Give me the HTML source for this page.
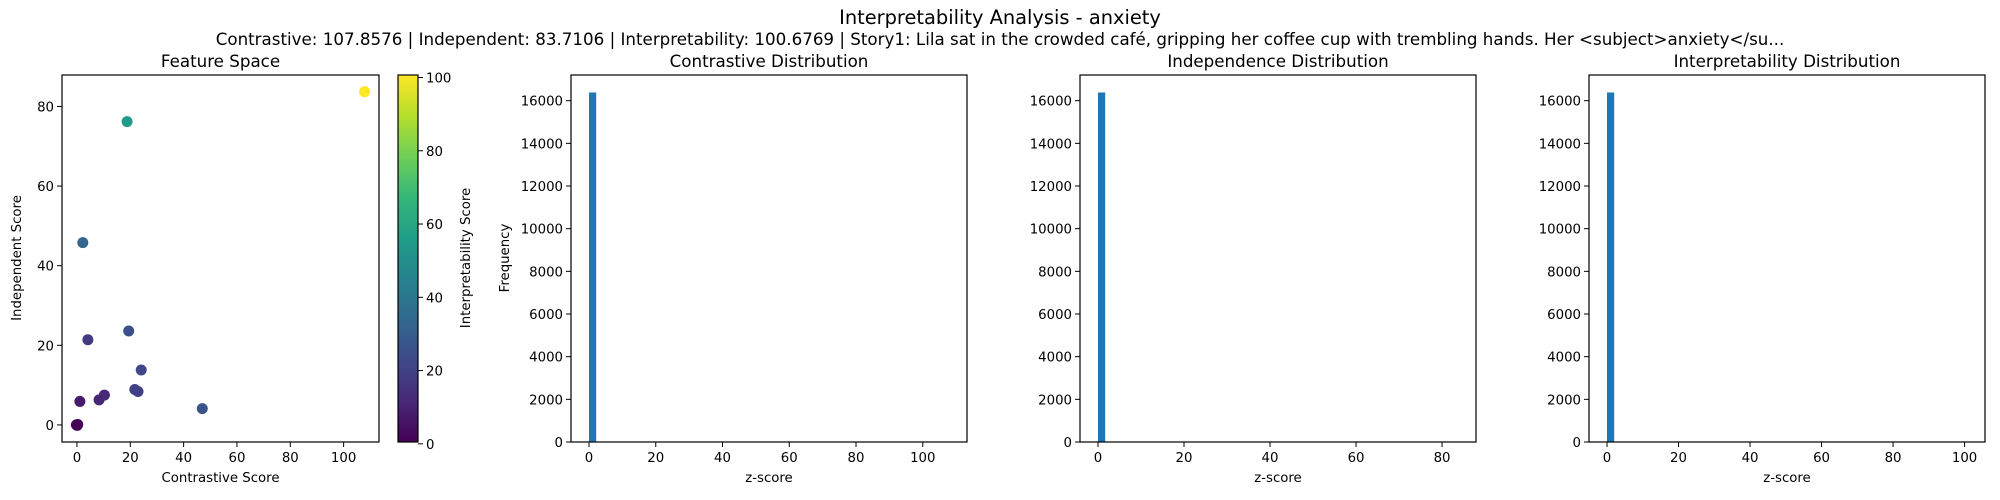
<!DOCTYPE html>
<html><head><meta charset="utf-8"><style>
html,body{margin:0;padding:0;background:#fff;}
svg{display:block;font-family:"DejaVu Sans","Liberation Sans",sans-serif;}
</style></head><body>
<svg id="chart" width="2000" height="500" viewBox="0 0 2000 500">
<defs><linearGradient id="vir" x1="0" y1="1" x2="0" y2="0"></linearGradient></defs>
<text x="1000" y="24" font-size="19.4" text-anchor="middle" fill="#000">Interpretability Analysis - anxiety</text>
<text x="1000" y="45" font-size="16.7" text-anchor="middle" fill="#000">Contrastive: 107.8576 | Independent: 83.7106 | Interpretability: 100.6769 | Story1: Lila sat in the crowded café, gripping her coffee cup with trembling hands. Her &lt;subject&gt;anxiety&lt;/su...</text>
</svg>
<script>
// Scatter data
const contrastiveScores = [107.86, 18.8, 2.2, 19.4, 4.1, 24.1, 21.7, 22.9, 10.3, 8.3, 1.1, 47.0, 0.0, 0.3, -0.2, 0.1];
const independentScores = [83.71, 76.2, 45.8, 23.6, 21.4, 13.8, 8.9, 8.4, 7.5, 6.3, 5.9, 4.1, 0.0, 0.1, 0.0, -0.1];
const interpScores      = [100.68, 55, 33, 25, 18, 22, 20, 20, 12, 11, 8, 27, 2, 1, 0.5, 1.5];
const scatterXTicks = [0, 20, 40, 60, 80, 100];
const scatterYTicks = [0, 20, 40, 60, 80];
const cbarTicks = [0, 20, 40, 60, 80, 100];
// Histogram data (50 bins from 0 to max)
const histTitles = ["Contrastive Distribution", "Independence Distribution", "Interpretability Distribution"];
const histMax = [107.8576, 83.7106, 100.6769];
const histFirstBinCounts = [16384, 16384, 16384];
const histXTicks = [[0,20,40,60,80,100],[0,20,40,60,80],[0,20,40,60,80,100]];
const histYTicks = [0,2000,4000,6000,8000,10000,12000,14000,16000];

const NS = "http://www.w3.org/2000/svg";
const svg = document.getElementById('chart');
const FS = 13.3;
function mk(tag, attrs, parent){ const e=document.createElementNS(NS,tag); for(const k in attrs) e.setAttribute(k,attrs[k]); (parent||svg).appendChild(e); return e; }
function txt(x,y,s,size,anchor,parent){ const t=mk('text',{x:x,y:y,'font-size':size,'text-anchor':anchor||'middle',fill:'#000'},parent); t.textContent=s; return t; }

const VIR = ["#440154","#482878","#3e4989","#31688e","#26828e","#1f9e89","#35b779","#6ece58","#b5de2b","#fde725"];
function hex(h){return [parseInt(h.substr(1,2),16),parseInt(h.substr(3,2),16),parseInt(h.substr(5,2),16)];}
function viridis(t){ t=Math.max(0,Math.min(1,t)); const p=t*(VIR.length-1); const i=Math.min(Math.floor(p),VIR.length-2); const f=p-i; const a=hex(VIR[i]), b=hex(VIR[i+1]); return 'rgb('+a.map((v,k)=>Math.round(v+(b[k]-v)*f)).join(',')+')'; }
const grad = svg.querySelector('#vir');
VIR.forEach((c,i)=>mk('stop',{offset:(i/(VIR.length-1)*100)+'%','stop-color':c},grad));

const TOP=75, BOT=442;
// ---------- scatter ----------
const SL=62, SR=379;
function lim(arr){ const mn=Math.min(...arr), mx=Math.max(...arr), r=mx-mn; return [mn-0.05*r, mx+0.05*r]; }
const xl=lim(contrastiveScores), yl=lim(independentScores);
const sx=v=>SL+(v-xl[0])/(xl[1]-xl[0])*(SR-SL);
const sy=v=>BOT-(v-yl[0])/(yl[1]-yl[0])*(BOT-TOP);
const cMin=Math.min(...interpScores), cMax=Math.max(...interpScores);
const gS=mk('g',{});


contrastiveScores.forEach((x,i)=>{
  const c=mk('circle',{cx:sx(x),cy:sy(independentScores[i]),r:5.5,fill:viridis((interpScores[i]-cMin)/(cMax-cMin))},gS);
  
  
});
const fr=mk('rect',{x:SL,y:TOP,width:SR-SL,height:BOT-TOP,fill:'none',stroke:'#000','stroke-width':1.2});


scatterXTicks.forEach(v=>{ const x=sx(v); mk('line',{x1:x,x2:x,y1:BOT,y2:BOT+5,stroke:'#000'}); const t=txt(x,BOT+20,String(v),FS);
  
   });
scatterYTicks.forEach(v=>{ const y=sy(v); mk('line',{x1:SL-5,x2:SL,y1:y,y2:y,stroke:'#000'}); const t=txt(SL-8,y+5,String(v),FS,'end');
  
   });
let t=txt((SL+SR)/2,67,'Feature Space',16.7);
 
t=txt((SL+SR)/2,482,'Contrastive Score',FS);
 
t=txt(0,0,'Independent Score',FS); t.setAttribute('transform','translate(21,258) rotate(-90)');
 
// colorbar
const CL=398, CR=418;
const cb=mk('rect',{x:CL,y:TOP,width:CR-CL,height:BOT-TOP,fill:'url(#vir)',stroke:'#000','stroke-width':1.2});


const cy=v=>BOT-(v-cMin)/(cMax-cMin)*(BOT-TOP);
cbarTicks.forEach(v=>{ const y=cy(v); mk('line',{x1:CR,x2:CR+5,y1:y,y2:y,stroke:'#000'}); const tt=txt(CR+8,y+5,String(v),FS,'start');
  
   });
t=txt(0,0,'Interpretability Score',FS); t.setAttribute('transform','translate(470,258) rotate(-90)');
 

// ---------- histograms ----------
const HL=[571,1080,1589], HW=396;
histTitles.forEach((title,h)=>{
  const L=HL[h], R=L+HW, mx=histMax[h];
  const x0=-0.05*mx, x1=mx*1.05;
  const hx=v=>L+(v-x0)/(x1-x0)*HW;
  const ymax=histFirstBinCounts[h]*1.05;
  const hy=v=>BOT-v/ymax*(BOT-TOP);
  const bw=mx/50;
  const g=mk('g',{});
  
  
  const counts=[histFirstBinCounts[h]];
  counts.forEach((c,i)=>{
    const b=mk('rect',{x:hx(i*bw),y:hy(c),width:hx((i+1)*bw)-hx(i*bw),height:BOT-hy(c),fill:'#1f77b4'},g);
    
    
  });
  const f=mk('rect',{x:L,y:TOP,width:HW,height:BOT-TOP,fill:'none',stroke:'#000','stroke-width':1.2});
  
  
  histXTicks[h].forEach(v=>{ const x=hx(v); mk('line',{x1:x,x2:x,y1:BOT,y2:BOT+5,stroke:'#000'}); const tt=txt(x,BOT+20,String(v),FS);
    
     });
  histYTicks.forEach(v=>{ const y=hy(v); mk('line',{x1:L-5,x2:L,y1:y,y2:y,stroke:'#000'}); const tt=txt(L-8,y+5,String(v),FS,'end');
    
     });
  let tt=txt(L+HW/2,67,title,16.7);
  
  
  tt=txt(L+HW/2,482,'z-score',FS);
  
  
  if(h===0){ tt=txt(0,0,'Frequency',FS); tt.setAttribute('transform','translate(509,258) rotate(-90)');
    
     }
});
</script>
</body></html>
